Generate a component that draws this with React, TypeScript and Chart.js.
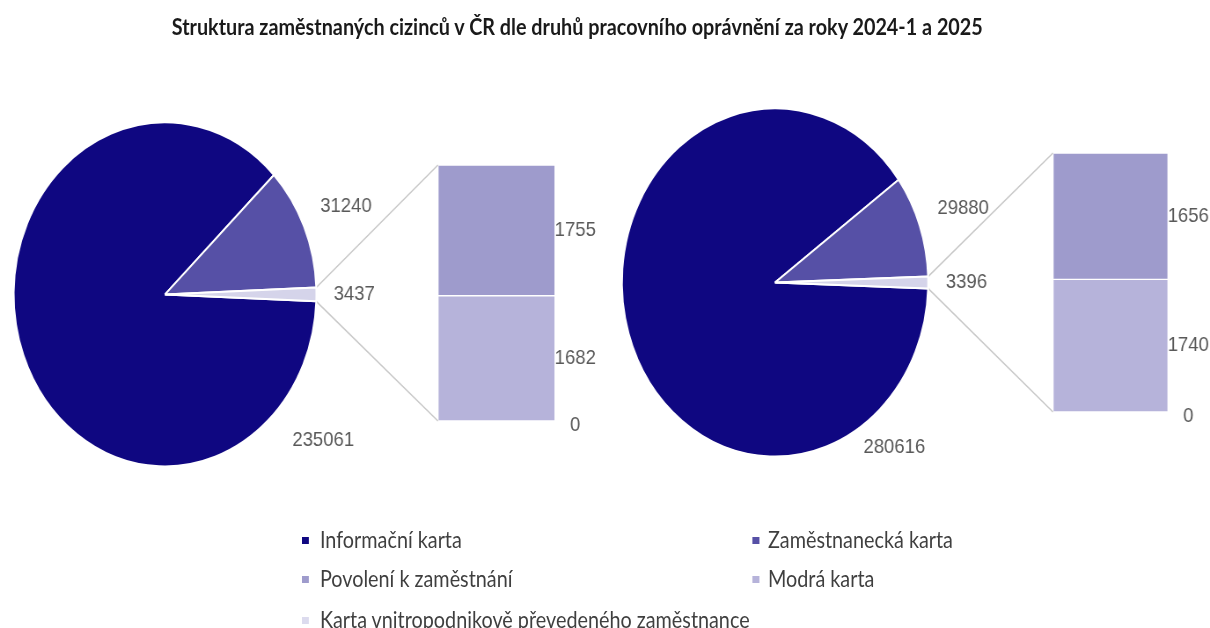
import React, { useEffect, useRef } from 'react';
import { Chart, registerables } from 'chart.js';

Chart.register(...registerables);

// ---------- data ----------
const TITLE = 'Struktura zaměstnaných cizinců v ČR dle druhů pracovního oprávnění za roky 2024-1 a 2025';
const pieCategories = ['Informační karta', 'Zaměstnanecká karta', 'Ostatní'];
const barCategories = ['Karta vnitropodnikově převedeného zaměstnance', 'Modrá karta', 'Povolení k zaměstnání'];
const pieValues2024 = [235061, 31240, 3437];
const barValues2024 = [0, 1682, 1755];
const pieValues2025 = [280616, 29880, 3396];
const barValues2025 = [0, 1740, 1656];
const legendItems = [
  'Informační karta',
  'Zaměstnanecká karta',
  'Povolení k zaměstnání',
  'Modrá karta',
  'Karta vnitropodnikově převedeného zaměstnance',
];

// ---------- style ----------
const C_INFO = '#0F0781';
const C_ZAM = '#5650A6';
const C_POV = '#9E9BCC';
const C_MODRA = '#B6B3DA';
const C_VNITRO = '#DCDBEE';
const C_OTHER = '#D5D4EA';
const legendColors = [C_INFO, C_ZAM, C_POV, C_MODRA, C_VNITRO];
const pieColors = [C_INFO, C_ZAM, C_OTHER];
const barColors = [C_VNITRO, C_MODRA, C_POV];

const SX = 0.88; // horizontal squeeze of the whole figure
const FULL_W = 1210 / SX;
const H = 628;
const LABEL_FONT = '21px "Liberation Sans", Arial, sans-serif';
const LABEL_COLOR = '#595959';

const panels = [
  {
    left: 0, width: 690, pie: pieValues2024, bar: barValues2024,
    cx: 187.5, cy: 294.4, radius: 172,
    barLeft: 497.7, barRight: 630.7, barTop: 165, barBottom: 421,
    bigAngle: 39, bigR: 1.345, smallR: [0, 1.3, 1.25],
  },
  {
    left: 690, width: FULL_W - 690, pie: pieValues2025, bar: barValues2025,
    cx: 190.7, cy: 282.5, radius: 174,
    barLeft: 506.6, barRight: 637.3, barTop: 153, barBottom: 412,
    bigAngle: 50.5, bigR: 1.225, smallR: [0, 1.3, 1.25],
  },
];

type PanelCfg = typeof panels[number];

function Panel({ p }: { p: PanelCfg }) {
  const pieRef = useRef<HTMLCanvasElement>(null);
  const barRef = useRef<HTMLCanvasElement>(null);

  useEffect(() => {
    const W = Math.round(p.width);
    const pieTotal = p.pie.reduce((a, b) => a + b, 0);
    const before = p.pie[0] + p.pie[1] + p.pie[2] / 2;
    const rotation = 90 - (360 * before) / pieTotal;

    const pieLabelPlugin = {
      id: 'pieLabels',
      afterDatasetsDraw(chart: any) {
        const meta = chart.getDatasetMeta(0);
        const vals = chart.data.datasets[0].data as number[];
        const ctx = chart.ctx as CanvasRenderingContext2D;
        ctx.save();
        ctx.font = LABEL_FONT;
        ctx.fillStyle = LABEL_COLOR;
        ctx.textAlign = 'center';
        ctx.textBaseline = 'middle';
        meta.data.forEach((arc: any, i: number) => {
          const { x, y, startAngle, endAngle, outerRadius } = arc.getProps(
            ['x', 'y', 'startAngle', 'endAngle', 'outerRadius'], true);
          let ang: number;
          let rf: number;
          if (i === 0) {
            ang = (p.bigAngle * Math.PI) / 180;
            rf = p.bigR;
          } else {
            ang = (startAngle + endAngle) / 2;
            rf = p.smallR[i];
          }
          ctx.fillText(String(vals[i]), x + Math.cos(ang) * outerRadius * rf, y + Math.sin(ang) * outerRadius * rf);
        });
        ctx.restore();
      },
    };

    const pieChart = new Chart(pieRef.current!, {
      type: 'pie',
      data: {
        labels: pieCategories,
        datasets: [{
          data: p.pie,
          backgroundColor: pieColors,
          borderColor: '#ffffff',
          borderWidth: 2,
        }],
      },
      options: {
        responsive: false,
        animation: false,
        devicePixelRatio: 1,
        rotation,
        radius: p.radius,
        layout: { padding: { left: 0, top: 0, right: W - 2 * p.cx, bottom: H - 2 * p.cy } },
        plugins: { legend: { display: false }, tooltip: { enabled: false }, title: { display: false } },
      } as any,
      plugins: [pieLabelPlugin],
    });

    const barTotal = p.bar.reduce((a, b) => a + b, 0);

    const connectorPlugin = {
      id: 'connector',
      beforeDatasetsDraw(chart: any) {
        const arc: any = pieChart.getDatasetMeta(0).data[2];
        if (!arc) return;
        const { x, y, startAngle, endAngle, outerRadius } = arc.getProps(
          ['x', 'y', 'startAngle', 'endAngle', 'outerRadius'], true);
        const top = chart.scales.y.getPixelForValue(barTotal);
        const bottom = chart.scales.y.getPixelForValue(0);
        const el: any = chart.getDatasetMeta(barCategories.length - 1).data[0];
        const left = el.x - el.width / 2;
        const ctx = chart.ctx as CanvasRenderingContext2D;
        ctx.save();
        ctx.strokeStyle = '#C9C9C9';
        ctx.lineWidth = 1.6;
        ctx.beginPath();
        ctx.moveTo(x + Math.cos(startAngle) * outerRadius, y + Math.sin(startAngle) * outerRadius);
        ctx.lineTo(left, top);
        ctx.moveTo(x + Math.cos(endAngle) * outerRadius, y + Math.sin(endAngle) * outerRadius);
        ctx.lineTo(left, bottom);
        ctx.stroke();
        ctx.restore();
      },
    };

    const barLabelPlugin = {
      id: 'barLabels',
      afterDatasetsDraw(chart: any) {
        const ctx = chart.ctx as CanvasRenderingContext2D;
        ctx.save();
        ctx.font = LABEL_FONT;
        ctx.fillStyle = LABEL_COLOR;
        ctx.textAlign = 'center';
        ctx.textBaseline = 'middle';
        chart.data.datasets.forEach((ds: any, i: number) => {
          const el: any = chart.getDatasetMeta(i).data[0];
          const right = el.x + el.width / 2;
          const cy = (el.y + el.base) / 2;
          ctx.fillText(String(ds.data[0]), right + 23, cy + (ds.data[0] === 0 ? 4 : 0));
        });
        ctx.restore();
      },
    };

    const barChart = new Chart(barRef.current!, {
      type: 'bar',
      data: {
        labels: [''],
        datasets: barCategories.map((c, i) => ({
          label: c,
          data: [p.bar[i]],
          backgroundColor: barColors[i],
          borderColor: '#ffffff',
          borderWidth: 1,
          borderSkipped: false,
          barPercentage: 1,
          categoryPercentage: 1,
        })),
      },
      options: {
        responsive: false,
        animation: false,
        devicePixelRatio: 1,
        layout: { padding: { left: p.barLeft, right: W - p.barRight, top: p.barTop, bottom: H - p.barBottom } },
        scales: {
          x: { display: false, stacked: true },
          y: { display: false, stacked: true, min: 0, max: barTotal },
        },
        plugins: { legend: { display: false }, tooltip: { enabled: false }, title: { display: false } },
      } as any,
      plugins: [connectorPlugin, barLabelPlugin],
    });

    return () => {
      barChart.destroy();
      pieChart.destroy();
    };
  }, [p]);

  const W = Math.round(p.width);
  const cs: React.CSSProperties = { position: 'absolute', left: 0, top: 0, width: W, height: H };
  return (
    <div style={{ position: 'absolute', left: p.left, top: 0, width: W, height: H }}>
      <canvas ref={barRef} width={W} height={H} style={cs} />
      <canvas ref={pieRef} width={W} height={H} style={cs} />
    </div>
  );
}

const legendPos = [
  { mx: 343, tx: 363.6, y: 540 },
  { mx: 854.5, tx: 872.7, y: 540 },
  { mx: 343, tx: 363.6, y: 579 },
  { mx: 854.5, tx: 872.7, y: 579 },
  { mx: 343, tx: 363.6, y: 620 },
];

export default function App() {
  return (
    <div style={{ position: 'absolute', left: 0, top: 0, width: 1210, height: 628, overflow: 'hidden', background: '#fff' }}>
      <div style={{ position: 'absolute', left: 0, top: 0, width: FULL_W, height: 628, transform: `scaleX(${SX})`, transformOrigin: '0 0' }}>
        {panels.map((p, i) => <Panel key={i} p={p} />)}
        <div style={{
          position: 'absolute', left: 0, top: 13, width: 1312, height: 28, lineHeight: '28px',
          textAlign: 'center', fontFamily: 'Lato, "Open Sans", sans-serif', fontWeight: 700, fontSize: 22.5, color: '#1a1a1a',
          whiteSpace: 'nowrap',
        }}>{TITLE}</div>
        {legendItems.map((t, i) => (
          <React.Fragment key={t}>
            <div style={{ position: 'absolute', left: legendPos[i].mx, top: legendPos[i].y - 3.5, width: 8, height: 7, background: legendColors[i] }} />
            <div style={{
              position: 'absolute', left: legendPos[i].tx, top: legendPos[i].y - 14, height: 28, lineHeight: '28px',
              fontFamily: 'Lato, "Open Sans", sans-serif', fontSize: 22.5, color: '#3F3F3F', whiteSpace: 'nowrap',
            }}>{t}</div>
          </React.Fragment>
        ))}
      </div>
    </div>
  );
}
